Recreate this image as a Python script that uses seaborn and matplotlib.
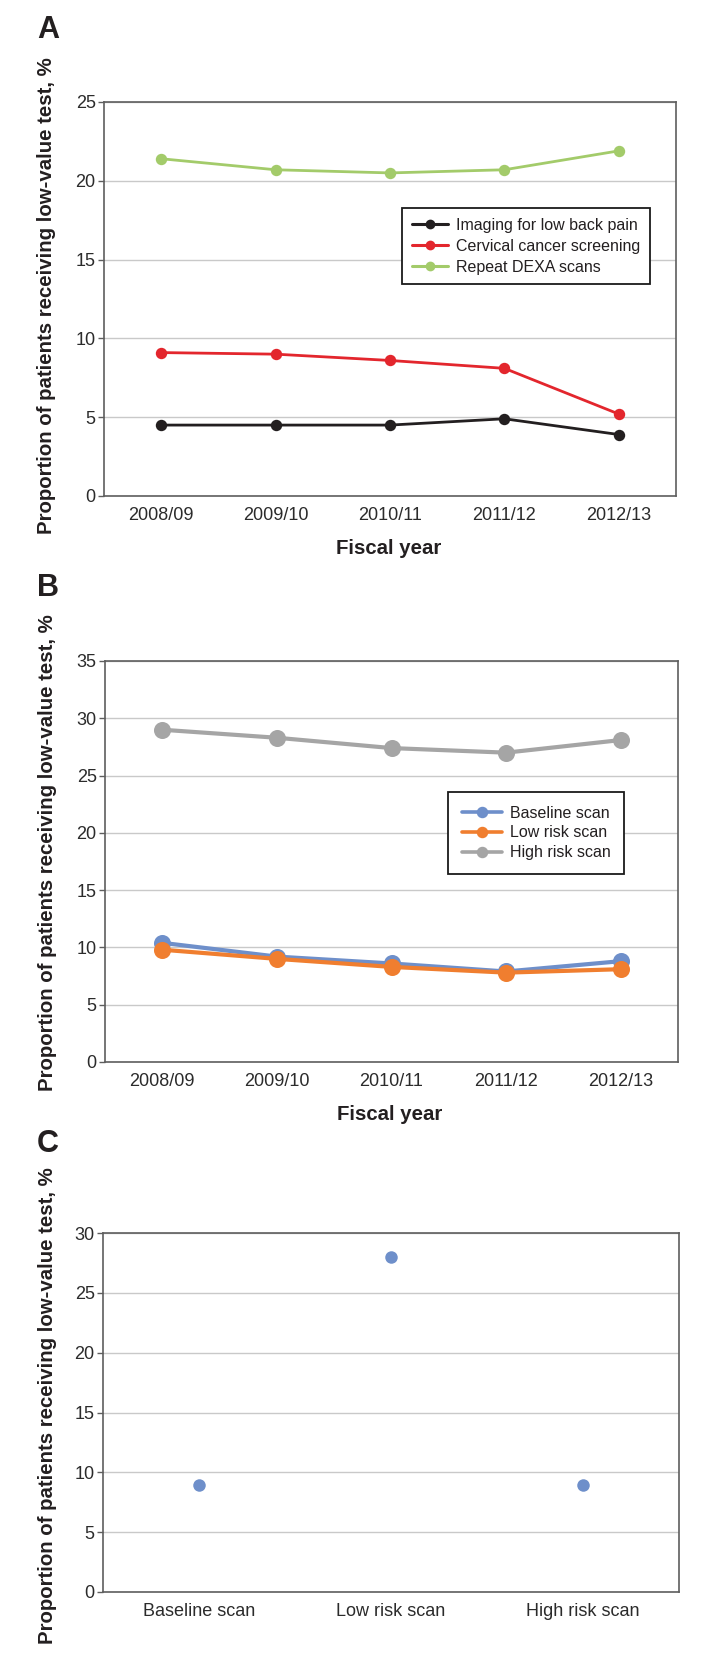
import numpy as np
import pandas as pd
import matplotlib
matplotlib.use("Agg")
import matplotlib.pyplot as plt
import seaborn as sns

# ---------------- data ----------------
years = ["2008/09", "2009/10", "2010/11", "2011/12", "2012/13"]

series_a = ["Imaging for low back pain", "Cervical cancer screening", "Repeat DEXA scans"]
imaging_low_back_pain = [4.5, 4.5, 4.5, 4.9, 3.9]
cervical_cancer_screening = [9.1, 9.0, 8.6, 8.1, 5.2]
repeat_dexa_scans = [21.4, 20.7, 20.5, 20.7, 21.9]
colors_a = ["#231f20", "#e3262d", "#a3cb6a"]

series_b = ["Baseline scan", "Low risk scan", "High risk scan"]
baseline_scan = [10.4, 9.2, 8.6, 7.9, 8.8]
low_risk_scan = [9.8, 9.0, 8.3, 7.8, 8.1]
high_risk_scan = [29.0, 28.3, 27.4, 27.0, 28.1]
colors_b = ["#6e8fca", "#f07e2f", "#a5a5a5"]

scan_types = ["Baseline scan", "Low risk scan", "High risk scan"]
scan_values = [8.9, 28.0, 8.9]
color_c = "#6e8fca"

ylabel_text = "Proportion of patients receiving low-value test, %"
xlabel_text = "Fiscal year"

df_a = pd.DataFrame({
    "year": years * 3,
    "value": imaging_low_back_pain + cervical_cancer_screening + repeat_dexa_scans,
    "series": [s for s in series_a for _ in years],
})
df_b = pd.DataFrame({
    "year": years * 3,
    "value": baseline_scan + low_risk_scan + high_risk_scan,
    "series": [s for s in series_b for _ in years],
})
df_c = pd.DataFrame({"scan": scan_types, "value": scan_values})

# ---------------- style ----------------
sns.set_theme(style="white")
plt.rcParams["font.family"] = ["Liberation Sans", "DejaVu Sans"]

W, H = 709, 1664
fig = plt.figure(figsize=(W / 100, H / 100), dpi=100)


def add_ax(left, right, top, bottom):
    return fig.add_axes([left / W, 1 - bottom / H, (right - left) / W, (bottom - top) / H])


axA = add_ax(104, 676, 102, 496)
axB = add_ax(105, 678, 661, 1062)
axC = add_ax(103, 679, 1233, 1592)

TXT = "#231f20"
SPINE = "#5e5e5e"


def style(ax, ymax, ncat, ylab_xy, xlab_y=None):
    ax.set_ylim(0, ymax)
    ax.set_yticks(np.arange(0, ymax + 1, 5))
    ax.set_xlim(-0.5, ncat - 0.5)
    ax.yaxis.grid(True, color="#c9c9c9", lw=1.0)
    ax.xaxis.grid(False)
    ax.set_axisbelow(True)
    for s in ax.spines.values():
        s.set_visible(True)
        s.set_color(SPINE)
        s.set_linewidth(1.2)
    ax.tick_params(axis="y", left=True, length=4, width=1, color=SPINE, pad=2,
                   labelsize=13, labelcolor="#2b2b2b")
    ax.tick_params(axis="x", bottom=False, length=0, pad=8, labelsize=13,
                   labelcolor="#2b2b2b")
    ax.set_ylabel(ylabel_text, fontsize=14.7, fontweight="bold", color=TXT)
    ax.yaxis.set_label_coords(*ylab_xy)
    ax.yaxis.label.set_va("center")
    if xlab_y is not None:
        ax.set_xlabel(xlabel_text, fontsize=14.7, fontweight="bold", color=TXT)
        ax.xaxis.set_label_coords(0.497, xlab_y)
        ax.xaxis.label.set_va("center")
    else:
        ax.set_xlabel("")


def redo_legend(ax, anchor, lw, ms, handlelength, borderpad, labelspacing):
    leg = ax.get_legend()
    handles = list(leg.legend_handles)
    labels = [t.get_text() for t in leg.get_texts()]
    leg.remove()
    new = ax.legend(handles, labels, loc="upper left", bbox_to_anchor=anchor,
                    borderaxespad=0, fontsize=11.5, handlelength=handlelength,
                    handletextpad=0.5, labelspacing=labelspacing,
                    borderpad=borderpad, frameon=True, fancybox=False,
                    framealpha=1, title=None)
    fr = new.get_frame()
    fr.set_edgecolor("#1a1a1a")
    fr.set_linewidth(1.3)
    for h in new.legend_handles:
        h.set_markersize(ms)
        h.set_linewidth(lw)
    for t in new.get_texts():
        t.set_color(TXT)


# ---------------- panel A ----------------
sns.pointplot(data=df_a, x="year", y="value", hue="series", order=years,
              hue_order=series_a, palette=colors_a, markers="o", linestyles="-",
              errorbar=None, markersize=6.7, linewidth=2.0, ax=axA)
style(axA, 25, 5, (-0.0997, 0.5076), -0.132)
redo_legend(axA, (0.521, 0.731), 2.2, 5.5, 2.3, 0.6, 0.38)

# ---------------- panel B ----------------
sns.pointplot(data=df_b, x="year", y="value", hue="series", order=years,
              hue_order=series_b, palette=colors_b, markers="o", linestyles="-",
              errorbar=None, markersize=10, linewidth=3.0, ax=axB)
style(axB, 35, 5, (-0.1012, 0.521), -0.13)
redo_legend(axB, (0.599, 0.673), 2.6, 6, 2.5, 0.85, 0.3)

# ---------------- panel C ----------------
sns.stripplot(data=df_c, x="scan", y="value", order=scan_types, jitter=False,
              size=9, color=color_c, linewidth=0, ax=axC)
style(axC, 30, 3, (-0.0972, 0.518), None)

# ---------------- panel letters ----------------
for letter, ytop in (("A", 15), ("B", 573), ("C", 1129)):
    fig.text(37 / W, 1 - ytop / H, letter, fontsize=22, fontweight="bold",
             color=TXT, ha="left", va="top")

fig.savefig("out.png", dpi=100, facecolor="white")
